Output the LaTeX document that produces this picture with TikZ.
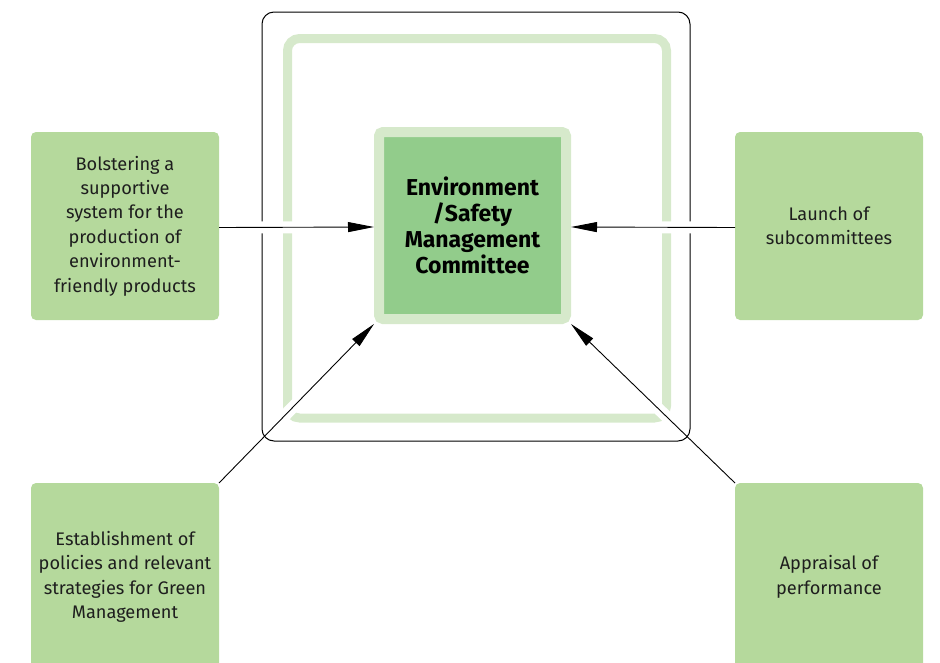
\documentclass[tikz,border=0pt]{standalone}
\usepackage{fontspec}
\setmainfont{Fira Sans}
\usetikzlibrary{arrows.meta,backgrounds}
\definecolor{sidegreen}{HTML}{B5D99C}
\definecolor{framegreen}{HTML}{D6E9CB}
\definecolor{coregreen}{HTML}{92CC8B}
\definecolor{textdark}{HTML}{1E1E1E}
\begin{document}
\begin{tikzpicture}[x=1pt,y=-1pt,
  sidebox/.style={fill=sidegreen, rounded corners=5pt, minimum width=188pt, minimum height=188pt,
    inner sep=0pt, outer sep=0pt, align=center, text=textdark, font=\fontsize{18.2}{24.4}\selectfont},
  core/.style={draw=framegreen, line width=10pt, fill=coregreen, rounded corners=4pt,
    minimum width=187pt, minimum height=187pt, inner sep=0pt, align=center, text=black,
    font=\bfseries\fontsize{23}{26}\selectfont},
  halo/.style={white, line width=12pt},
  link/.style={-{Triangle[length=26pt,width=10pt]}, line width=0.9pt, black}]
\clip (0,0) rectangle (940,662);
\node[core] (cm) at (472.5,225.5) {Environment\\/Safety\\Management\\Committee};
\node[sidebox] (lt) at (125,226) {Bolstering a\\supportive\\system for the\\production of\\environment-\\friendly products};
\node[sidebox] (rt) at (829,226) {Launch of\\subcommittees};
\node[sidebox] (lb) at (125,577) {Establishment of\\policies and relevant\\strategies for Green\\Management};
\node[sidebox] (rb) at (829,577) {Appraisal of\\performance};
\coordinate (lin) at ([yshift=-1.5pt]cm.west);
\coordinate (rin) at ([yshift=-1.5pt]cm.east);
\coordinate (lout) at ([yshift=-1.5pt]lt.east);
\coordinate (rout) at ([yshift=-1.5pt]rt.west);
\begin{scope}[on background layer]
  \draw[framegreen, line width=9pt, rounded corners=12pt] (287.5,38.5) rectangle (666.5,418);
  \draw[halo] (lb.north east) -- (cm.south west);
  \draw[halo] (rb.north west) -- (cm.south east);
  \draw[line width=1pt, rounded corners=12pt] (262,12) rectangle (690,441);
  \draw[halo] (lout) -- (lin);
  \draw[halo] (rout) -- (rin);
\end{scope}
\draw[link] (lout) -- (lin);
\draw[link] (rout) -- (rin);
\draw[link] (lb.north east) -- (cm.south west);
\draw[link] (rb.north west) -- (cm.south east);
\end{tikzpicture}
\end{document}
